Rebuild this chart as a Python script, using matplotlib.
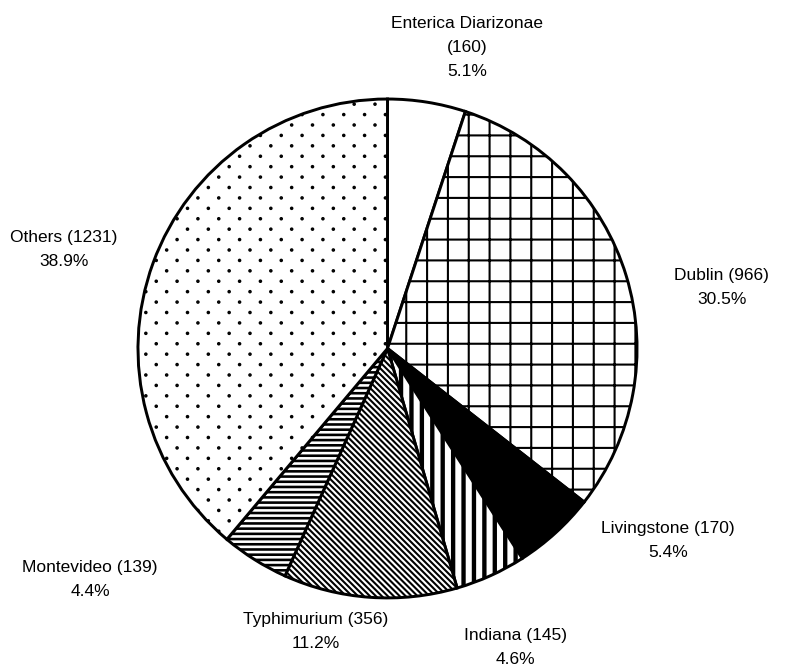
import numpy as np
import matplotlib
matplotlib.use("Agg")
import matplotlib.pyplot as plt
import matplotlib.hatch as mhatch
from matplotlib.path import Path

plt.rcParams['font.family'] = ['Liberation Sans', 'DejaVu Sans']
plt.rcParams['font.size'] = 10
plt.rcParams['hatch.linewidth'] = 1.0

# data
names = ['Enterica Diarizonae', 'Dublin', 'Livingstone', 'Indiana',
         'Typhimurium', 'Montevideo', 'Others']
counts = [160, 966, 170, 145, 356, 139, 1231]


# dotted fill like the office "20%" pattern: rows twice as close as columns
class DenseDots(mhatch.HatchPatternBase):
    filled = True
    size = 0.035

    def __init__(self, hatch, density):
        self.ncols = hatch.count('.') * density
        if self.ncols == 0:
            self.num_vertices = 0
            return
        self.nrows = 2 * self.ncols
        self.shape = Path.unit_circle()
        nshapes = (self.nrows // 2 + 1) * (self.ncols + 1) + (self.nrows // 2) * self.ncols
        self.num_vertices = nshapes * len(self.shape.vertices)

    def set_vertices_and_codes(self, vertices, codes):
        step = 1.0 / self.ncols
        sv = self.shape.vertices * step * self.size
        vparts, cparts = [], []
        for row in range(self.nrows + 1):
            if row % 2 == 0:
                cols = np.linspace(0, 1, self.ncols + 1)
            else:
                cols = np.linspace(step / 2, 1 - step / 2, self.ncols)
            for c in cols:
                vparts.append(sv + [c, row / self.nrows])
                cparts.append(self.shape.codes)
        np.concatenate(vparts, out=vertices)
        np.concatenate(cparts, out=codes)


mhatch._hatch_types = [h for h in mhatch._hatch_types
                       if h is not mhatch.SmallFilledCircles] + [DenseDots]

hatches = ['', '+', '', '||', '\\' * 7, '----', '.']
hatch_lw = [1.0, 1.2, 1.0, 2.5, 1.2, 1.5, 1.2]
fills = ['white', 'white', 'black', 'white', 'white', 'white', 'white']

# label layout (data units, pie radius = 1)
label_pos = [(0.319, 1.208), (1.340, 0.246), (1.124, -0.768), (0.511, -1.200),
             (-0.287, -1.136), (-1.192, -0.928), (-1.297, 0.395)]

fig = plt.figure(figsize=(6.28, 5.36), dpi=125)
ax = fig.add_axes([0, 0, 1, 1])

total = sum(counts)
wedges, _ = ax.pie(counts, startangle=90, counterclock=False,
                   colors=fills, hatch=hatches,
                   wedgeprops=dict(edgecolor='black', linewidth=1.7))
for w, lw in zip(wedges, hatch_lw):
    if hasattr(w, 'set_hatch_linewidth'):
        w.set_hatch_linewidth(lw)

for name, n, (x, y) in zip(names, counts, label_pos):
    pct = 100.0 * n / total
    if name == 'Enterica Diarizonae':
        txt = f'{name}\n({n})\n{pct:.1f}%'
    else:
        txt = f'{name} ({n})\n{pct:.1f}%'
    ax.text(x, y, txt, ha='center', va='center', linespacing=1.75)

ax.set_aspect('auto')
ax.set_xlim(-1.553, 1.593)
ax.set_ylim(-1.289, 1.397)
ax.axis('off')

fig.savefig('out.png', dpi=125)
